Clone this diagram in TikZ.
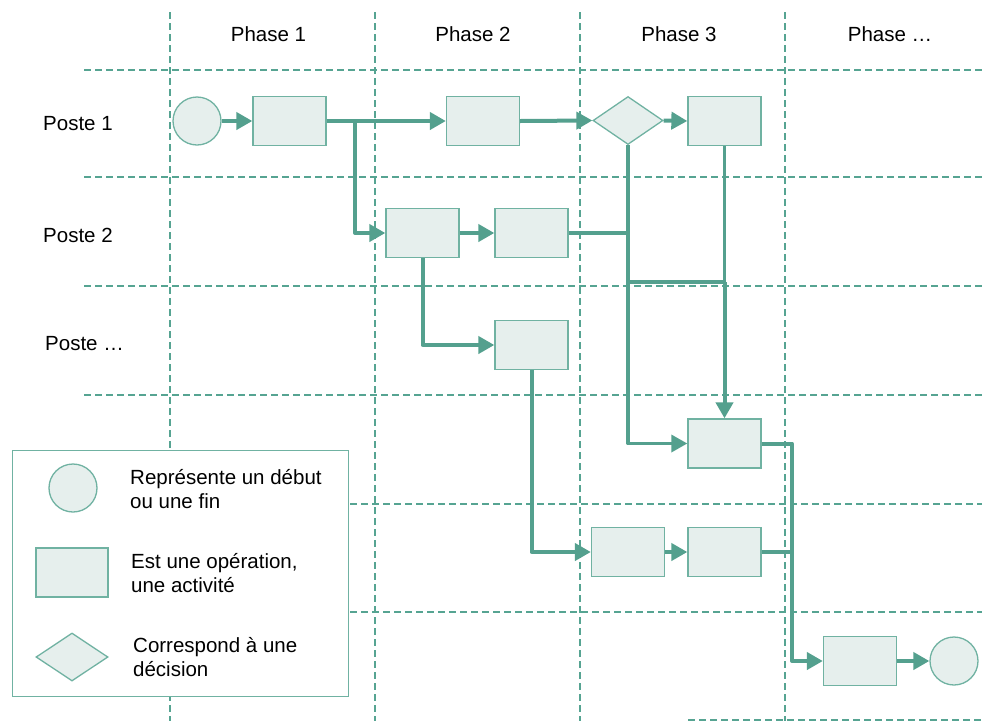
\documentclass[tikz,border=0pt]{standalone}
\usepackage{fontspec}
\setmainfont{Liberation Sans}
\usetikzlibrary{arrows.meta,shapes.geometric}
\definecolor{flow}{RGB}{84,160,142}
\definecolor{gridc}{RGB}{86,164,146}
\definecolor{boxfill}{RGB}{230,239,237}
\definecolor{boxline}{RGB}{112,178,162}

\begin{document}
\begin{tikzpicture}[x=1pt,y=-1pt,
  gridline/.style={gridc, line width=1.9pt, dash pattern=on 6.5pt off 4.5pt},
  opbox/.style={draw=boxline, fill=boxfill, line width=1.3pt, minimum width=73pt, minimum height=49pt, inner sep=0pt},
  endpt/.style={circle, draw=boxline, fill=boxfill, line width=1.3pt, minimum size=48pt, inner sep=0pt},
  decision/.style={diamond, draw=boxline, fill=boxfill, line width=1.3pt, minimum width=70pt, minimum height=48pt, inner sep=0pt, aspect=1.46},
  flowline/.style={flow, line width=4pt, line join=round},
  flowarrow/.style={flowline, -{Triangle[length=16pt,width=17pt]}},
  lbl/.style={font=\fontsize{20.5}{24}\selectfont, text=black, inner sep=0pt},
]
\useasboundingbox (0,0) rectangle (982,721);

% swimlane grid
\foreach \gx in {170,375,580,785}
  \draw[gridline] (\gx,12) -- (\gx,721);
\foreach \gy in {70,177,286,395}
  \draw[gridline] (84,\gy) -- (982,\gy);
\foreach \gy in {504,612}
  \draw[gridline] (350,\gy) -- (982,\gy);
\draw[gridline] (688,720) -- (982,720);

% column and row headings
\node[lbl, anchor=base] (ph1) at (268.5,41.5) {Phase 1};
\node[lbl, anchor=base] (ph2) at (473,41.5) {Phase 2};
\node[lbl, anchor=base] (ph3) at (679,41.5) {Phase 3};
\node[lbl, anchor=base] (ph4) at (890,41.5) {Phase …};
\node[lbl, anchor=base west] (po1) at (43,130) {Poste 1};
\node[lbl, anchor=base west] (po2) at (43,242) {Poste 2};
\node[lbl, anchor=base west] (po3) at (45,350) {Poste …};

% process steps
\node[endpt] (start) at (197,121) {};
\node[opbox] (A) at (289.5,121) {};
\node[opbox] (B) at (483,121) {};
\node[decision] (dec) at (628,120.5) {};
\node[opbox] (C) at (724.5,121) {};
\node[opbox] (D) at (422.5,233) {};
\node[opbox] (E) at (531.5,233) {};
\node[opbox] (F) at (531.5,345) {};
\node[opbox] (G) at (724.5,443.5) {};
\node[opbox] (H) at (628,552) {};
\node[opbox] (I) at (724.5,552) {};
\node[opbox] (J) at (860,661) {};
\node[endpt] (stop) at (954,661) {};

% junction points
\coordinate (j1) at (355,121);
\coordinate (j2) at (724.5,282);
\coordinate (j3) at (628,282);
\coordinate (j5) at (792,661);

% connectors
\draw[flowarrow] (start.east) -- (A.west);
\draw[flowarrow] (A.east) -- (B.west);
\draw[flowarrow] (j1) |- (D.west);
\draw[flowarrow] (B.east) -- (dec.west);
\draw[flowarrow] (dec.east) -- (C.west);
\draw[flowarrow] (D.east) -- (E.west);
\draw[flowarrow] (D.south) |- (F.west);
\draw[flowline] (E.east) -- (E.east -| dec.south);
\draw[flowarrow, line width=3.4pt] (dec.south) |- (G.west);
\draw[flow, line width=2.2pt] (C.south) -- (j2);
\draw[flowline] (j3) -- (j2);
\draw[flowarrow] (j2) -- (G.north);
\draw[flowarrow] (F.south) |- (H.west);
\draw[flowarrow] (H.east) -- (I.west);
\draw[flowarrow] (G.east) -| (j5) -- (J.west);
\draw[flowline] (I.east) -- (I.east -| j5);
\draw[flowarrow] (J.east) -- (stop.west);

% legend
\node[draw=boxline, fill=white, line width=1.3pt, minimum width=336pt, minimum height=246pt, inner sep=0pt, anchor=north west] (legend) at (12,450) {};
\node[endpt] (lcirc) at (73,488) {};
\node[opbox, minimum width=72pt] (lbox) at (72,572.5) {};
\node[decision, minimum width=72pt] (ldec) at (72,657) {};
\node[lbl, anchor=west, align=left] (ltxt1) at (130,489.5) {Représente un début\\ou une fin};
\node[lbl, anchor=west, align=left] (ltxt2) at (131,573.5) {Est une opération,\\une activité};
\node[lbl, anchor=west, align=left] (ltxt3) at (133,657.5) {Correspond à une\\décision};
\end{tikzpicture}
\end{document}
